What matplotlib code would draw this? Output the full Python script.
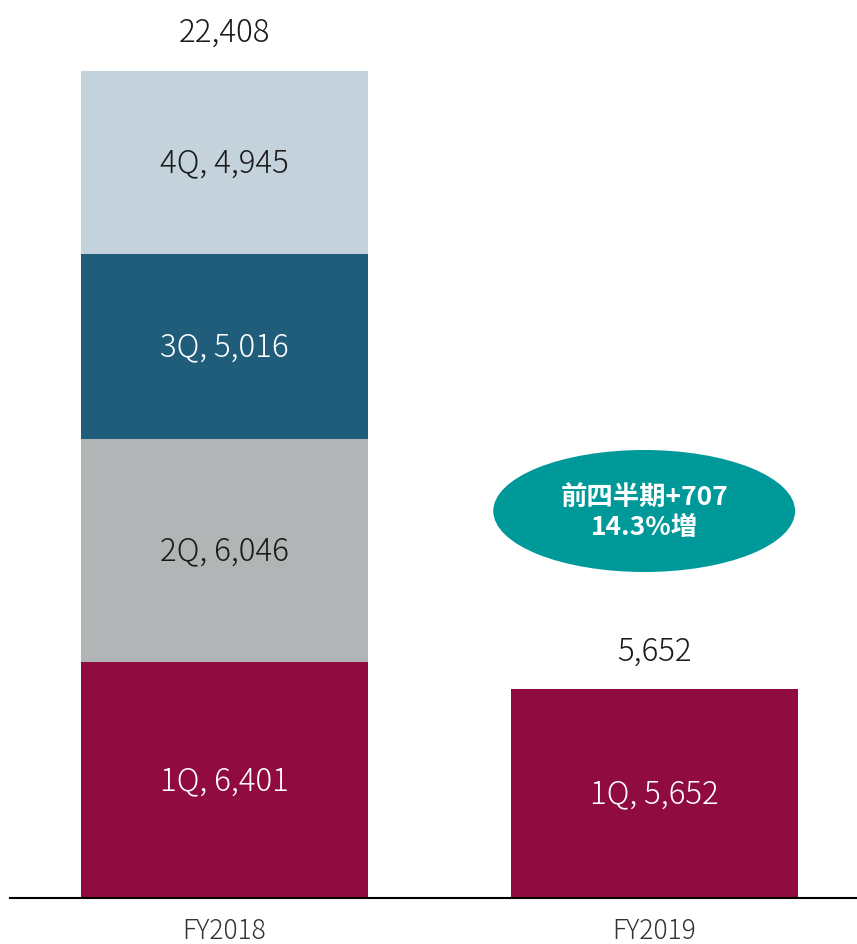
import matplotlib.pyplot as plt
from matplotlib.patches import Ellipse

plt.rcParams['font.family'] = ['Noto Sans CJK JP', 'DejaVu Sans']

# quarterly sales by fiscal year
years = ['FY2018', 'FY2019']
quarters = ['1Q', '2Q', '3Q', '4Q']
fy2018 = [6401, 6046, 5016, 4945]
fy2019 = [5652]
totals = [22408, 5652]

colors = ['#900B3F', '#B2B5B6', '#1F5D7B', '#C3D2DB']
text_colors = ['white', '#1a1a1a', 'white', '#1a1a1a']

fig = plt.figure(figsize=(8.57, 9.45), dpi=100)
ax = fig.add_axes([10 / 857, 46 / 945, 847 / 857, 899 / 945])

width = 0.667
series = [fy2018, fy2019]
for i, vals in enumerate(series):
    bottom = 0
    for q, v in enumerate(vals):
        ax.bar(i, v, width, bottom=bottom, color=colors[q], linewidth=0)
        ax.text(i, bottom + v / 2, f'{quarters[q]}, {v:,}', ha='center', va='center',
                fontsize=22.5, fontweight='light', color=text_colors[q])
        bottom += v
    ax.annotate(f'{totals[i]:,}', (i, bottom), xytext=(0, 28), textcoords='offset points',
                ha='center', va='center', fontsize=22.5, fontweight='light', color='#1a1a1a')
    ax.annotate(years[i], (i, 0), xytext=(0, -23), textcoords='offset points',
                ha='center', va='center', fontsize=19, fontweight='light', color='#333333')

ax.set_xlim(-0.499, 1.471)
ax.set_ylim(0, 22408 / 827 * 899)

# quarter-on-quarter change callout
diff = fy2019[0] - fy2018[-1]
pct = diff / fy2018[-1] * 100
ax.add_patch(Ellipse((0.976, 22408 / 827 * 387), 0.702, 22408 / 827 * 122,
                     color='#00999A', linewidth=0))
ax.text(0.976, 22408 / 827 * 387, f'前四半期+{diff}\n{pct:.1f}%増', ha='center',
        va='center', fontsize=19, fontweight='bold', color='white', linespacing=1.15)

for s in ['top', 'right', 'left']:
    ax.spines[s].set_visible(False)
ax.spines['bottom'].set_linewidth(1.5)
ax.spines['bottom'].set_color('black')
ax.set_xticks([])
ax.set_yticks([])

fig.savefig('out.png', dpi=100)
